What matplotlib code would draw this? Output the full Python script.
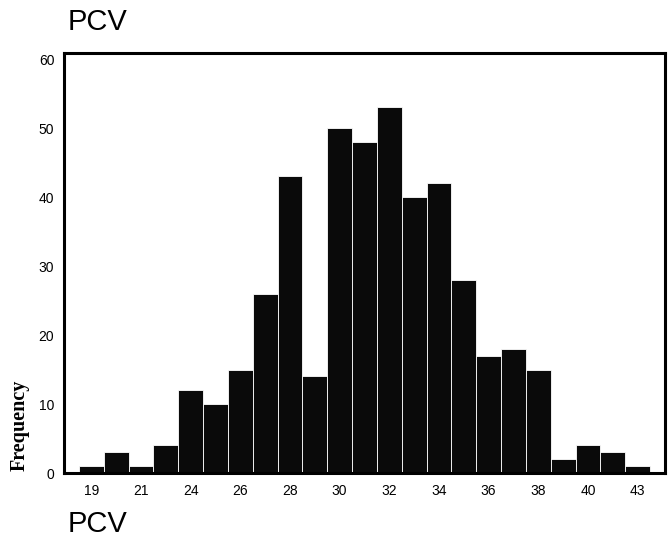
import matplotlib
matplotlib.use("Agg")
import matplotlib.pyplot as plt
import numpy as np

# Histogram of PCV (bin frequencies, left to right)
frequencies = [1, 3, 1, 4, 12, 10, 15, 26, 43, 14, 50, 48, 53, 40, 42, 28, 17, 18, 15, 2, 4, 3, 1]
tick_bins = [0, 2, 4, 6, 8, 10, 12, 14, 16, 18, 20, 22]
tick_labels = ["19", "21", "24", "26", "28", "30", "32", "34", "36", "38", "40", "43"]
y_ticks = [0, 10, 20, 30, 40, 50, 60]

fig = plt.figure(figsize=(6.71, 5.38), dpi=100)
ax = fig.add_axes([0.0954, 0.1208, 0.8956, 0.7807])

x = np.arange(len(frequencies))
ax.bar(x, frequencies, width=1.0, color="#0a0a0a", edgecolor="white", linewidth=0.6)

ax.set_xlim(-1.1, len(frequencies) - 1 + 1.1)
ax.set_ylim(0, 60.9)
ax.set_xticks(tick_bins)
ax.set_xticklabels(tick_labels, family="Liberation Sans", fontsize=10)
ax.set_yticks(y_ticks)
ax.set_yticklabels([str(v) for v in y_ticks], family="Liberation Sans", fontsize=10)
ax.tick_params(axis="both", length=0, pad=8)
ax.tick_params(axis="y", pad=7)

for s in ax.spines.values():
    s.set_linewidth(2.2)
    s.set_color("black")

fig.text(68 / 671, 1 - 22 / 538, "PCV", family="Liberation Sans", fontsize=21,
         ha="left", va="center")
fig.text(68 / 671, 1 - 524 / 538, "PCV", family="Liberation Sans", fontsize=21,
         ha="left", va="center")
fig.text(20 / 671, 1 - 425 / 538, "Frequency", family="Liberation Serif", fontweight="bold",
         fontsize=14.5, rotation=90, ha="center", va="center")

fig.savefig("out.png", dpi=100)
